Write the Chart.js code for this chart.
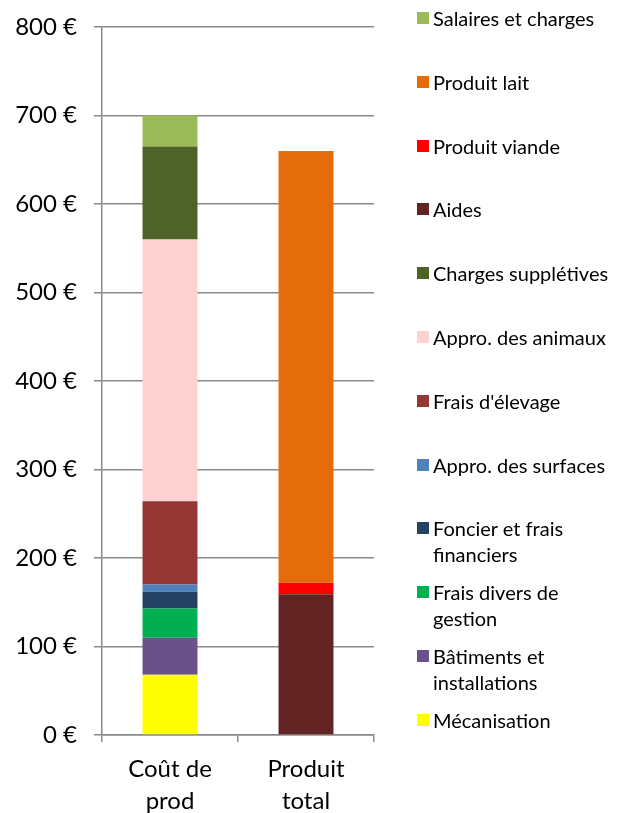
<!DOCTYPE html>
<html>
<head>
<meta charset="utf-8">
<script src="https://cdn.jsdelivr.net/npm/chart.js@4/dist/chart.umd.min.js"></script>
<style>
  html, body {margin: 0; padding: 0; background: #fff;}
  #wrap {position: relative; width: 621px; height: 813px;}
  #myChart {display: block;}
  #legend {
    position: absolute; left: 417px; top: 5px; width: 200px;
    font-family: Lato, 'Open Sans', sans-serif; font-size: 20px; color: #000;
  }
  .legend_item {display: flex; align-items: flex-start; height: 63.8px;}
  .legend_box {width: 12px; height: 12px; flex: none; margin-top: 7px; margin-right: 4px;}
  .legend_text {line-height: 26px; width: 182px;}
</style>
</head>
<body>
<div id="wrap">
  <canvas id="myChart" width="621" height="813"></canvas>
  <div id="legend"></div>
</div>
<script>
const categories = [['Coût de', 'prod'], ['Produit', 'total']];

const mecanisation = [68, null];
const batiments = [42, null];
const fraisDivers = [33, null];
const foncier = [19, null];
const approSurfaces = [8, null];
const fraisElevage = [94, null];
const approAnimaux = [296, null];
const chargesSuppletives = [105, null];
const aides = [null, 159];
const produitViande = [null, 13];
const produitLait = [null, 488];
const salaires = [35, null];

const yTicks = [0, 100, 200, 300, 400, 500, 600, 700, 800];

// stacking order, bottom to top (legend is shown in reverse)
const series = [
  {label: 'Mécanisation', data: mecanisation, color: '#FFFF00'},
  {label: 'Bâtiments et installations', data: batiments, color: '#6B5189'},
  {label: 'Frais divers de gestion', data: fraisDivers, color: '#00B050'},
  {label: 'Foncier et frais financiers', data: foncier, color: '#254163'},
  {label: 'Appro. des surfaces', data: approSurfaces, color: '#4F81BD'},
  {label: 'Frais d\'élevage', data: fraisElevage, color: '#953735'},
  {label: 'Appro. des animaux', data: approAnimaux, color: '#FFD1D1'},
  {label: 'Charges supplétives', data: chargesSuppletives, color: '#4F6228'},
  {label: 'Aides', data: aides, color: '#632523'},
  {label: 'Produit viande', data: produitViande, color: '#FF0000'},
  {label: 'Produit lait', data: produitLait, color: '#E46C0A'},
  {label: 'Salaires et charges', data: salaires, color: '#9BBB59'},
];

const fontFamily = 'Lato, \'Open Sans\', sans-serif';
const gridColor = '#898989';

const data = {
  labels: categories,
  datasets: series.map((s) => ({
    label: s.label,
    data: s.data,
    backgroundColor: s.color,
    borderWidth: 0,
    categoryPercentage: 1,
    barPercentage: 0.404,
  })),
};

const options = {
  responsive: false,
  animation: false,
  layout: {padding: {left: 0, top: 27, right: 247, bottom: 0}},
  plugins: {
    legend: {display: false},
    tooltip: {enabled: false},
  },
  scales: {
    x: {
      stacked: true,
      afterFit: function(scale) {
        scale.height = 78;
      },
      grid: {
        drawOnChartArea: false,
        offset: true,
        tickLength: 7,
        color: gridColor,
        lineWidth: 1.5,
      },
      border: {color: gridColor, width: 1.5},
      ticks: {
        color: '#000',
        padding: 11,
        font: {family: fontFamily, size: 24, lineHeight: 1.35},
        maxRotation: 0,
      },
    },
    y: {
      stacked: true,
      min: 0,
      max: 800,
      afterFit: function(scale) {
        scale.width = 102;
        // let layout.padding decide the top of the plot
        scale.paddingTop = 0;
        scale.paddingBottom = 0;
      },
      afterBuildTicks: function(scale) {
        scale.ticks = yTicks.map((v) => ({value: v}));
      },
      grid: {
        color: gridColor,
        lineWidth: 1.5,
        tickLength: 8,
      },
      border: {color: gridColor, width: 1.5},
      ticks: {
        color: '#000',
        padding: 17,
        font: {family: fontFamily, size: 24},
        callback: function(value) {
          return value + ' €';
        },
      },
    },
  },
};

const chart = new Chart(document.getElementById('myChart'), {
  type: 'bar',
  data: data,
  options: options,
});

// legend, reversed like the original
const legendElt = document.getElementById('legend');
chart.data.datasets.slice().reverse().forEach((ds) => {
  const item = document.createElement('div');
  item.className = 'legend_item';
  item.innerHTML = `<div class="legend_box" style="background:${ds.backgroundColor}"></div>` +
    `<div class="legend_text">${ds.label}</div>`;
  legendElt.appendChild(item);
});
</script>
</body>
</html>
